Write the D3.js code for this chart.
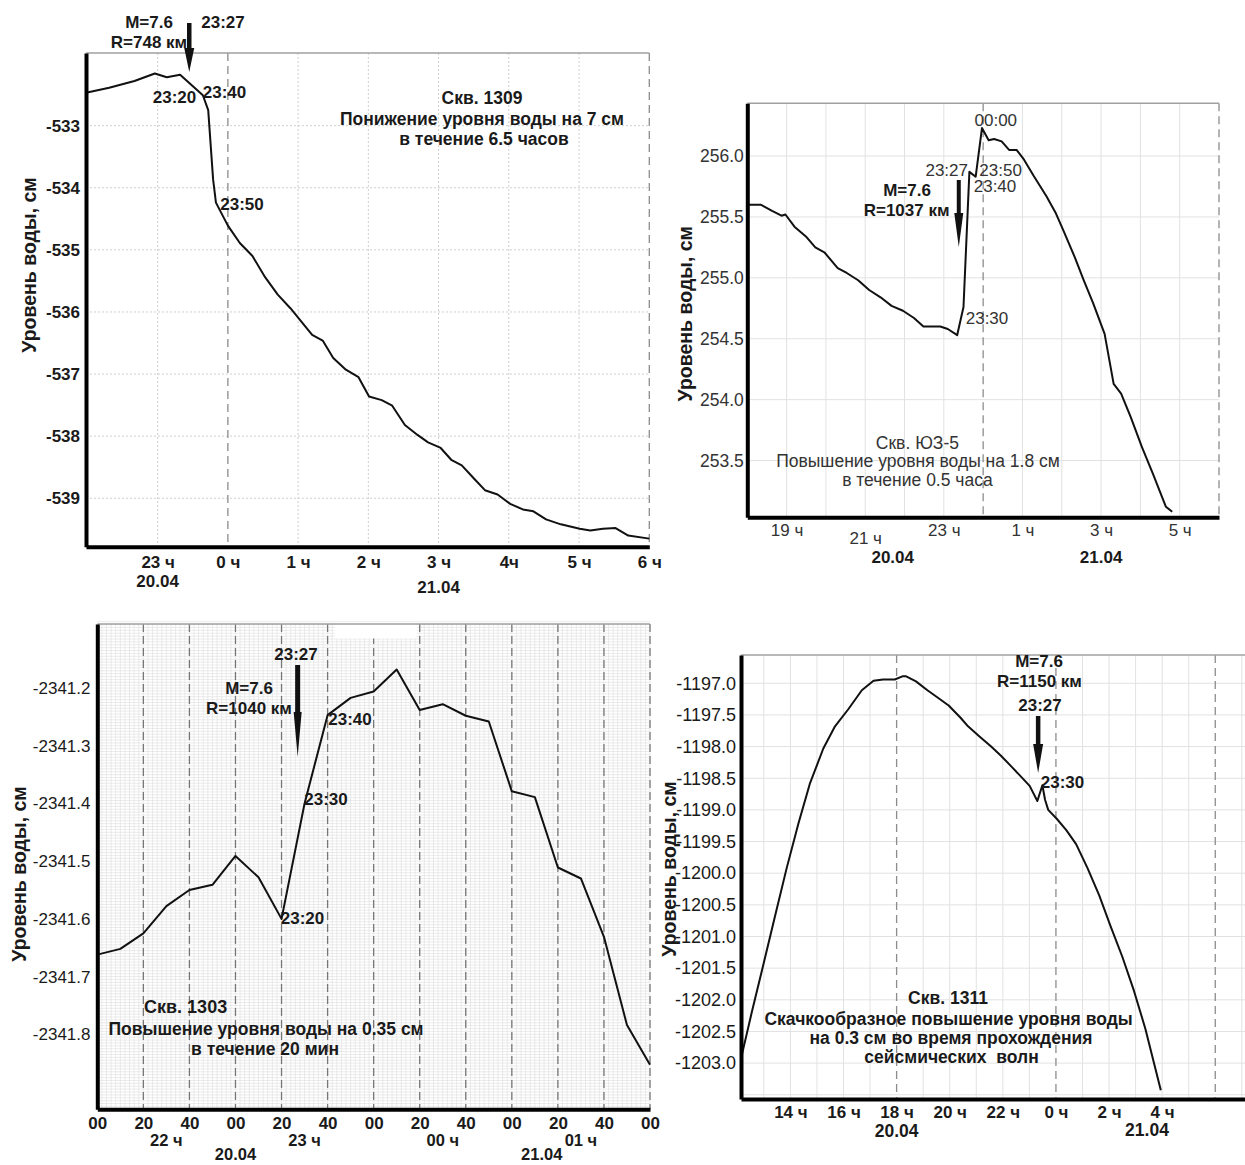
<!DOCTYPE html>
<html>
<head>
<meta charset="utf-8">
<script src="https://cdn.jsdelivr.net/npm/d3@7"></script>
<style>
  body { margin: 0; background: #fff; }
</style>
</head>
<body>
<svg id="chart"></svg>
<script>
const W = 1245, H = 1165;
const FONT = '"Liberation Sans", Arial, Helvetica, sans-serif';

// Скв. 1309 — hours relative to 00:00 21.04
const well1309Hours = [-2.02, -1.69, -1.33, -1.04, -0.87, -0.68, -0.356, -0.28, -0.21, -0.17, 0, 0.17, 0.35, 0.53, 0.71, 0.89,
  1.20, 1.35, 1.50, 1.68, 1.86, 2.01, 2.19, 2.34, 2.52, 2.70, 2.85, 3.03, 3.18, 3.33, 3.51, 3.66, 3.84, 4.02, 4.20,
  4.35, 4.53, 4.74, 5.01, 5.16, 5.34, 5.52, 5.70, 6.0];
const well1309Level = [-532.47, -532.39, -532.28, -532.16, -532.22, -532.18, -532.51, -532.75, -533.87, -534.24, -534.61,
  -534.89, -535.10, -535.44, -535.72, -535.94, -536.37, -536.46, -536.74, -536.93, -537.05, -537.36, -537.42, -537.51,
  -537.82, -537.98, -538.10, -538.19, -538.38, -538.47, -538.69, -538.87, -538.94, -539.09, -539.18, -539.21, -539.34,
  -539.42, -539.49, -539.52, -539.49, -539.48, -539.60, -539.65];
const well1309YTicks = [-533, -534, -535, -536, -537, -538, -539];
const well1309XTicks = [-1, 0, 1, 2, 3, 4, 5, 6];
const well1309XLabels = ['23 ч', '0 ч', '1 ч', '2 ч', '3 ч', '4ч', '5 ч', '6 ч'];

// Скв. ЮЗ-5 — hours relative to 00:00 21.04
const wellUZ5Hours = [-6.01, -5.65, -5.37, -5.13, -5.03, -4.80, -4.51, -4.27, -4.04, -3.70, -3.47, -3.18, -2.90, -2.61,
  -2.33, -2.04, -1.76, -1.52, -1.09, -0.90, -0.66, -0.50, -0.35, -0.19, -0.03, 0.14, 0.28, 0.47, 0.66, 0.85, 1.04,
  1.28, 1.61, 1.85, 2.04, 2.33, 2.56, 2.80, 3.09, 3.32, 3.51, 3.75, 4.04, 4.32, 4.65, 4.81];
const wellUZ5Level = [255.60, 255.60, 255.55, 255.51, 255.52, 255.42, 255.34, 255.25, 255.21, 255.08, 255.04, 254.98,
  254.90, 254.84, 254.77, 254.73, 254.67, 254.60, 254.60, 254.58, 254.53, 254.76, 255.87, 255.83, 256.23, 256.13,
  256.14, 256.12, 256.05, 256.05, 255.97, 255.84, 255.67, 255.53, 255.39, 255.17, 254.98, 254.79, 254.54, 254.13,
  254.05, 253.86, 253.61, 253.39, 253.12, 253.08];
const wellUZ5YTicks = [253.5, 254.0, 254.5, 255.0, 255.5, 256.0];
const wellUZ5XTicks = [-5, -3, -1, 1, 3, 5];
const wellUZ5XLabels = ['19 ч', '21 ч', '23 ч', '1 ч', '3 ч', '5 ч'];

// Скв. 1303 — minutes after 22:00 20.04
const well1303Minutes = [0, 10, 20, 30, 40, 50, 60, 70, 80, 90, 100, 110, 120, 130, 140, 150, 160, 170, 180, 190, 200,
  210, 220, 230, 240];
const well1303Level = [-2341.662, -2341.652, -2341.625, -2341.578, -2341.550, -2341.541, -2341.491, -2341.528,
  -2341.600, -2341.400, -2341.247, -2341.217, -2341.206, -2341.168, -2341.238, -2341.228, -2341.248, -2341.258,
  -2341.379, -2341.389, -2341.511, -2341.530, -2341.631, -2341.784, -2341.853];
const well1303YTicks = [-2341.2, -2341.3, -2341.4, -2341.5, -2341.6, -2341.7, -2341.8];
const well1303XTicks = [0, 20, 40, 60, 80, 100, 120, 140, 160, 180, 200, 220, 240];
const well1303XLabels = ['00', '20', '40', '00', '20', '40', '00', '20', '40', '00', '20', '40', '00'];
const well1303HourAt = [30, 90, 150, 210];
const well1303HourLabels = ['22 ч', '23 ч', '00 ч', '01 ч'];

// Скв. 1311 — hours after 00:00 20.04
const well1311Hours = [12.145, 12.55, 12.99, 13.42, 13.86, 14.30, 14.73, 15.24, 15.68, 16.18, 16.69, 17.13, 17.49,
  17.93, 18.22, 18.36, 18.73, 19.16, 19.53, 19.96, 20.40, 20.69, 21.12, 21.56, 21.92, 22.29, 22.72, 23.01, 23.30,
  23.49, 23.59, 23.71, 24.03, 24.39, 24.76, 25.19, 25.63, 26.06, 26.50, 26.94, 27.37, 27.95];
const well1311Level = [-1202.92, -1202.19, -1201.43, -1200.68, -1199.92, -1199.22, -1198.59, -1198.03, -1197.68,
  -1197.41, -1197.11, -1196.96, -1196.94, -1196.94, -1196.89, -1196.89, -1196.97, -1197.11, -1197.22, -1197.35,
  -1197.54, -1197.68, -1197.84, -1198.00, -1198.14, -1198.30, -1198.49, -1198.62, -1198.86, -1198.61, -1198.84,
  -1199.00, -1199.14, -1199.32, -1199.54, -1199.92, -1200.35, -1200.84, -1201.32, -1201.86, -1202.46, -1203.43];
const well1311YTicks = [-1197.0, -1197.5, -1198.0, -1198.5, -1199.0, -1199.5, -1200.0, -1200.5, -1201.0, -1201.5,
  -1202.0, -1202.5, -1203.0];
const well1311XTicks = [14, 16, 18, 20, 22, 24, 26, 28];
const well1311XLabels = ['14 ч', '16 ч', '18 ч', '20 ч', '22 ч', '0 ч', '2 ч', '4 ч'];

const Y_TITLE = 'Уровень воды, см';

const svg = d3.select('#chart')
  .attr('width', W)
  .attr('height', H)
  .style('font-family', FONT);

svg.append('rect').attr('width', W).attr('height', H).attr('fill', '#fff');

function addText(g, t, x, y, opt = {}) {
  return g.append('text')
    .attr('x', x)
    .attr('y', y)
    .attr('dy', '0.36em')
    .attr('text-anchor', opt.anchor || 'middle')
    .attr('font-size', opt.size || 16)
    .attr('font-weight', opt.bold ? 'bold' : 'normal')
    .attr('fill', opt.color || '#1a1a1a')
    .style('white-space', 'pre')
    .text(t);
}

function arrow(g, x0, yTop, yHead, yTip, shaftW, headW) {
  const s = shaftW / 2, h = headW / 2;
  g.append('path')
    .attr('d', `M${x0 - s},${yTop}L${x0 + s},${yTop}L${x0 + s},${yHead}L${x0 + h},${yHead}` +
      `L${x0},${yTip}L${x0 - h},${yHead}L${x0 - s},${yHead}Z`)
    .attr('fill', '#111');
}

function drawPanel(p) {
  const x = d3.scaleLinear().domain(p.xDomain).range([p.left, p.right]);
  const y = d3.scaleLinear().domain(p.yDomain).range([p.bottom, p.top]);
  const g = svg.append('g');

  // fine millimetre-like grid (Скв. 1303 only)
  if (p.fineGrid) {
    const fg = g.append('g').attr('stroke', '#dedede').attr('stroke-width', 0.6);
    fg.selectAll('.fv').data(p.fineGrid.v).join('line')
      .attr('x1', d => x(d)).attr('x2', d => x(d))
      .attr('y1', p.top).attr('y2', p.bottom);
    fg.selectAll('.fh').data(p.fineGrid.h).join('line')
      .attr('x1', p.left).attr('x2', p.right)
      .attr('y1', d => y(d)).attr('y2', d => y(d));
  }

  const grid = g.append('g')
    .attr('stroke', p.gridColor || '#dcdcdc')
    .attr('stroke-width', 1)
    .attr('stroke-dasharray', p.gridDash || null);
  grid.selectAll('.gv').data(p.vGrid || []).join('line')
    .attr('x1', d => x(d)).attr('x2', d => x(d))
    .attr('y1', p.top).attr('y2', p.bottom);
  grid.selectAll('.gh').data(p.hGrid || []).join('line')
    .attr('x1', p.left).attr('x2', p.right)
    .attr('y1', d => y(d)).attr('y2', d => y(d));

  // dashed reference lines
  g.append('g')
    .attr('stroke', p.dashColor || '#8c8c8c')
    .attr('stroke-width', 1.3)
    .attr('stroke-dasharray', p.dashPattern || '8,5')
    .selectAll('line').data(p.dashed).join('line')
    .attr('x1', d => x(d)).attr('x2', d => x(d))
    .attr('y1', p.top).attr('y2', p.bottom);

  if (p.patch) {
    g.append('rect')
      .attr('x', p.patch[0]).attr('y', p.patch[1])
      .attr('width', p.patch[2]).attr('height', p.patch[3])
      .attr('fill', '#fff');
  }

  // top border
  g.append('line')
    .attr('x1', p.left).attr('x2', p.right)
    .attr('y1', p.top).attr('y2', p.top)
    .attr('stroke', '#a0a0a0').attr('stroke-width', 1.6);

  // water level curve
  const line = d3.line().x(d => x(d[0])).y(d => y(d[1]));
  g.append('path')
    .datum(d3.zip(p.xs, p.ys))
    .attr('d', line)
    .attr('fill', 'none')
    .attr('stroke', '#111')
    .attr('stroke-width', 2)
    .attr('stroke-linejoin', 'round');

  // axes
  const xAxis = g.append('g')
    .attr('transform', `translate(0,${p.bottom})`)
    .call(d3.axisBottom(x)
      .tickValues(p.xTicks)
      .tickFormat((d, i) => p.xLabels[i])
      .tickSize(0)
      .tickPadding(p.xPad));
  xAxis.attr('font-family', FONT).attr('font-size', p.xSize)
    .attr('font-weight', p.xBold ? 'bold' : 'normal');
  xAxis.selectAll('text').attr('fill', p.xColor || '#1a1a1a');
  if (p.xDrop) {
    xAxis.selectAll('.tick text').attr('y', (d, i) => p.xPad + (p.xDrop[i] || 0));
  }
  xAxis.select('.domain').attr('stroke', '#000').attr('stroke-width', 4);

  const yAxis = g.append('g')
    .attr('transform', `translate(${p.left},0)`)
    .call(d3.axisLeft(y)
      .tickValues(p.yTicks)
      .tickFormat(p.yFormat)
      .tickSize(0)
      .tickPadding(p.yPad));
  yAxis.attr('font-family', FONT).attr('font-size', p.ySize)
    .attr('font-weight', p.yBold ? 'bold' : 'normal');
  yAxis.selectAll('text').attr('fill', p.yColor || '#1a1a1a');
  yAxis.select('.domain').attr('stroke', '#000').attr('stroke-width', 4);

  // axis title
  g.append('text')
    .attr('transform', `translate(${p.titleX},${p.titleY}) rotate(-90)`)
    .attr('dy', '0.36em')
    .attr('text-anchor', 'middle')
    .attr('font-size', 19.5)
    .attr('font-weight', 'bold')
    .attr('fill', '#1a1a1a')
    .text(Y_TITLE);

  // extra labels under the x axis (hours, dates)
  (p.underLabels || []).forEach(u => {
    addText(g, u.text, x(u.at), u.y, { size: u.size, bold: u.bold, color: u.color });
  });

  // earthquake arrow at 23:27
  const ax = x(p.eventAt);
  arrow(g, ax, p.arrow[0], p.arrow[1], p.arrow[2], p.arrow[3], p.arrow[4]);

  (p.notes || []).forEach(n => {
    addText(g, n.text, n.x, n.y, { size: n.size, bold: n.bold, color: n.color, anchor: n.anchor });
  });
}

const fmt1 = d => d.toFixed(1);

// ---- Скв. 1309 ----
drawPanel({
  left: 86, right: 649.3, top: 53, bottom: 546.7,
  xDomain: [-2.02, 6.0], yDomain: [-539.78, -531.83],
  xs: well1309Hours, ys: well1309Level,
  vGrid: [-1, 1, 2, 3, 4, 5], hGrid: well1309YTicks, gridDash: '2,2', gridColor: '#cfcfcf',
  dashed: [0, 6],
  xTicks: well1309XTicks, xLabels: well1309XLabels, xPad: 9.2, xSize: 17, xBold: true,
  yTicks: well1309YTicks, yFormat: d => String(d), yPad: 6, ySize: 17, yBold: true,
  titleX: 28.6, titleY: 265,
  underLabels: [
    { text: '20.04', at: -1, y: 581, size: 17, bold: true },
    { text: '21.04', at: 3, y: 587, size: 17, bold: true }
  ],
  eventAt: -0.55, arrow: [23, 48, 72, 4.5, 10],
  notes: [
    { text: 'M=7.6', x: 149, y: 22, size: 17, bold: true },
    { text: 'R=748 км', x: 149, y: 42, size: 17, bold: true },
    { text: '23:27', x: 223, y: 22, size: 17, bold: true },
    { text: '23:20', x: 174.5, y: 96.5, size: 17, bold: true },
    { text: '23:40', x: 224.5, y: 91.5, size: 17, bold: true },
    { text: '23:50', x: 242, y: 203.5, size: 17, bold: true },
    { text: 'Скв. 1309', x: 482, y: 98, size: 17.5, bold: true },
    { text: 'Понижение уровня воды на 7 см', x: 482, y: 118.3, size: 17.5, bold: true },
    { text: 'в течение 6.5 часов', x: 484, y: 138.2, size: 17.5, bold: true }
  ]
});

// ---- Скв. ЮЗ-5 ----
drawPanel({
  left: 747.3, right: 1219, top: 103.3, bottom: 517.3,
  xDomain: [-6, 6], yDomain: [253.034, 256.433],
  xs: wellUZ5Hours, ys: wellUZ5Level,
  vGrid: [-5, -4, -3, -2, -1, 1, 2, 3, 4, 5], hGrid: wellUZ5YTicks, gridColor: '#e2e2e2',
  dashed: [0, 6],
  xTicks: wellUZ5XTicks, xLabels: wellUZ5XLabels, xPad: 6.8, xSize: 17, xBold: false, xColor: '#333',
  xDrop: [0, 8, 0, 0, 0, 0],
  yTicks: wellUZ5YTicks, yFormat: fmt1, yPad: 3.5, ySize: 17.5, yBold: false, yColor: '#333',
  titleX: 685.4, titleY: 313.7,
  underLabels: [
    { text: '20.04', at: -2.3, y: 557, size: 17, bold: true },
    { text: '21.04', at: 3, y: 557, size: 17, bold: true }
  ],
  eventAt: -0.62, arrow: [180, 213, 247, 4, 9],
  notes: [
    { text: 'M=7.6', x: 907, y: 190, size: 17, bold: true },
    { text: 'R=1037 км', x: 906.6, y: 210, size: 17, bold: true },
    { text: '23:27', x: 946.7, y: 169.5, size: 17, color: '#333' },
    { text: '23:50', x: 1000.6, y: 169.5, size: 17, color: '#333' },
    { text: '23:40', x: 995, y: 186.2, size: 17, color: '#333' },
    { text: '00:00', x: 995.8, y: 119.4, size: 17, color: '#333' },
    { text: '23:30', x: 987, y: 317.7, size: 17, color: '#333' },
    { text: 'Скв. ЮЗ-5', x: 917.4, y: 442.3, size: 17.5, color: '#333' },
    { text: 'Повышение уровня воды на 1.8 см', x: 918, y: 460.6, size: 17.5, color: '#333' },
    { text: 'в течение 0.5 часа', x: 917.4, y: 480, size: 17.5, color: '#333' }
  ]
});

// ---- Скв. 1303 ----
drawPanel({
  left: 97.3, right: 650, top: 624, bottom: 1109.3,
  xDomain: [0, 240], yDomain: [-2341.930, -2341.089],
  xs: well1303Minutes, ys: well1303Level,
  fineGrid: {
    v: d3.range(0, 241, 2),
    h: d3.range(0, 169).map(i => -2341.925 + i * 0.005)
  },
  vGrid: [], hGrid: [],
  dashed: [20, 40, 60, 80, 100, 120, 140, 160, 180, 200, 220, 240], dashColor: '#777', dashPattern: '8,4',
  patch: [334.6, 622.5, 82, 16],
  xTicks: well1303XTicks, xLabels: well1303XLabels, xPad: 7.7, xSize: 17, xBold: true,
  yTicks: well1303YTicks, yFormat: fmt1, yPad: 6.8, ySize: 17, yBold: false,
  titleX: 19, titleY: 874,
  underLabels: well1303HourAt.map((at, i) => ({ text: well1303HourLabels[i], at, y: 1140.5, size: 16.5, bold: true }))
    .concat([
      { text: '20.04', at: 60, y: 1154, size: 16.5, bold: true },
      { text: '21.04', at: 193, y: 1154, size: 16.5, bold: true }
    ]),
  eventAt: 87, arrow: [665, 712, 757, 5, 8],
  notes: [
    { text: '23:27', x: 296, y: 654, size: 17, bold: true },
    { text: 'M=7.6', x: 249, y: 687.6, size: 17, bold: true },
    { text: 'R=1040 км', x: 249, y: 707.4, size: 17, bold: true },
    { text: '23:40', x: 350, y: 719, size: 17, bold: true },
    { text: '23:30', x: 326, y: 799.2, size: 17, bold: true },
    { text: '23:20', x: 302.5, y: 917.8, size: 17, bold: true },
    { text: 'Скв. 1303', x: 185.6, y: 1006.4, size: 18, bold: true },
    { text: 'Повышение уровня воды на 0.35 см', x: 266, y: 1028.8, size: 17.5, bold: true },
    { text: 'в течение 20 мин', x: 265, y: 1048.6, size: 17.5, bold: true }
  ]
});

// ---- Скв. 1311 ----
drawPanel({
  left: 741, right: 1245, top: 655, bottom: 1099,
  xDomain: [12.14, 31.12], yDomain: [-1203.567, -1196.553],
  xs: well1311Hours, ys: well1311Level,
  vGrid: [13, 14, 15, 16, 17, 19, 20, 21, 22, 23, 25, 26, 27, 28, 29, 31],
  hGrid: well1311YTicks.concat([-1203.5]), gridColor: '#e2e2e2',
  dashed: [18, 24, 30],
  xTicks: well1311XTicks, xLabels: well1311XLabels, xPad: 6.5, xSize: 17, xBold: true,
  yTicks: well1311YTicks, yFormat: fmt1, yPad: 5, ySize: 18, yBold: false,
  titleX: 669, titleY: 869,
  underLabels: [
    { text: '20.04', at: 18, y: 1131, size: 17.5, bold: true },
    { text: '21.04', at: 27.43, y: 1130, size: 17.5, bold: true }
  ],
  eventAt: 23.33, arrow: [716, 744, 773, 4.5, 10],
  notes: [
    { text: 'M=7.6', x: 1039, y: 660.7, size: 17, bold: true },
    { text: 'R=1150 км', x: 1039.5, y: 680.5, size: 17, bold: true },
    { text: '23:27', x: 1040, y: 704.4, size: 17, bold: true },
    { text: '23:30', x: 1062.5, y: 781.8, size: 17, bold: true },
    { text: 'Скв. 1311', x: 948, y: 997.8, size: 17.5, bold: true },
    { text: 'Скачкообразное повышение уровня воды', x: 948.6, y: 1018.3, size: 17.5, bold: true },
    { text: 'на 0.3 см во время прохождения', x: 951, y: 1037.7, size: 17.5, bold: true },
    { text: 'сейсмических  волн', x: 951.5, y: 1056.5, size: 17.5, bold: true }
  ]
});
</script>
</body>
</html>
